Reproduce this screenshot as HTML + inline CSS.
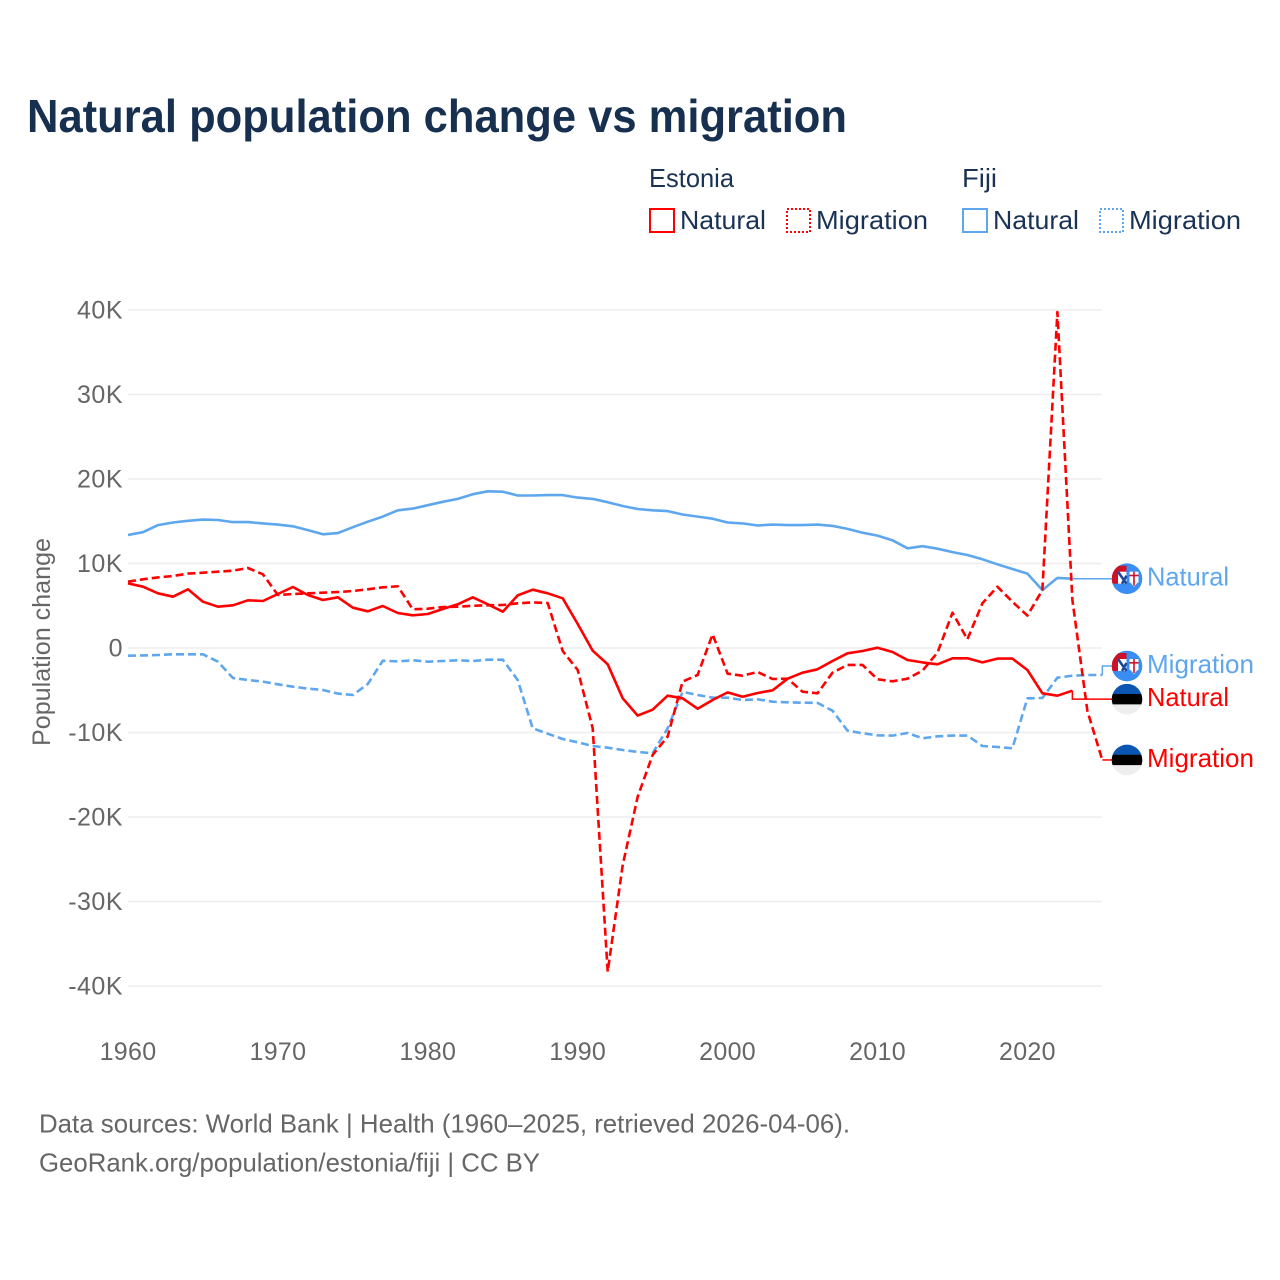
<!DOCTYPE html>
<html lang="en">
<head>
<meta charset="utf-8">
<title>Natural population change vs migration</title>
<style>
html,body{margin:0;padding:0;background:#fff;}
svg{display:block;font-family:"Liberation Sans",sans-serif;}
.title{font-size:46px;font-weight:700;fill:#17304f;}
.legend{font-size:26px;fill:#1a3355;}
.tick{font-size:25px;fill:#666;}
.foot{font-size:26px;fill:#666;}
.endlabel{font-size:26px;}
</style>
</head>
<body>
<svg id="chart" xmlns="http://www.w3.org/2000/svg" width="1280" height="1280" viewBox="0 0 1280 1280">
<defs>
<clipPath id="flag-clip"><circle cx="0" cy="0" r="15.3"></circle></clipPath>
<g id="flag-fiji" clip-path="url(#flag-clip)">
<rect x="-16" y="-16" width="32" height="32" fill="#3a8df2"></rect>
<rect x="-15" y="-13" width="14.5" height="18" fill="#ce1126"></rect>
<rect x="-9" y="-7" width="8.5" height="12" fill="#ffffff"></rect>
<path d="M-9,-7 L-0.5,5 M-0.5,-3 L-5,5" stroke="#1f4a9c" stroke-width="2.6" fill="none"></path>
<rect x="2.5" y="-7" width="9" height="11" fill="#ffffff"></rect>
<path d="M3.5,4 L10.5,4 L7,8 Z" fill="#ffffff"></path>
<rect x="2.5" y="-4" width="9" height="1.6" fill="#ce1126"></rect>
<rect x="6.2" y="-7" width="1.6" height="14" fill="#ce1126"></rect>
</g>
<g id="flag-estonia" clip-path="url(#flag-clip)">
<rect x="-16" y="-16" width="32" height="11" fill="#0b55b3"></rect>
<rect x="-16" y="-5.2" width="32" height="10.6" fill="#000000"></rect>
<rect x="-16" y="5.2" width="32" height="11" fill="#eeeeee"></rect>
</g>
</defs>

<rect x="0" y="0" width="1280" height="1280" fill="#ffffff"></rect>
<text class="title" x="27" y="132" textLength="820" lengthAdjust="spacingAndGlyphs">Natural population change vs migration</text>

<g>
<text class="legend" x="649" y="187" textLength="85" lengthAdjust="spacingAndGlyphs">Estonia</text>
<text class="legend" x="962" y="187" textLength="35" lengthAdjust="spacingAndGlyphs">Fiji</text>
<g>
<rect x="650" y="209" width="24" height="23" fill="none" stroke="#ff0000" stroke-width="2"></rect>
<text class="legend" x="680" y="229" textLength="86" lengthAdjust="spacingAndGlyphs">Natural</text>
</g>
<g>
<rect x="787" y="209" width="23" height="23" fill="none" stroke="#ff0000" stroke-width="2" stroke-dasharray="2 2"></rect>
<text class="legend" x="816" y="229" textLength="112" lengthAdjust="spacingAndGlyphs">Migration</text>
</g>
<g>
<rect x="963" y="209" width="24" height="23" fill="none" stroke="#5ea6ee" stroke-width="2"></rect>
<text class="legend" x="993" y="229" textLength="86" lengthAdjust="spacingAndGlyphs">Natural</text>
</g>
<g>
<rect x="1100" y="209" width="23" height="23" fill="none" stroke="#5ea6ee" stroke-width="2" stroke-dasharray="2 2"></rect>
<text class="legend" x="1129" y="229" textLength="112" lengthAdjust="spacingAndGlyphs">Migration</text>
</g>
</g>

<g id="grid"></g>
<g id="yticks"></g>
<g id="xticks"></g>
<text class="tick" transform="translate(50,642) rotate(-90)" text-anchor="middle" textLength="208" lengthAdjust="spacingAndGlyphs">Population change</text>
<g id="series"></g>
<g id="ends"></g>

<text class="foot" x="39" y="1132.5" textLength="811" lengthAdjust="spacingAndGlyphs">Data sources: World Bank | Health (1960–2025, retrieved 2026-04-06).</text>
<text class="foot" x="39" y="1171.5" textLength="501" lengthAdjust="spacingAndGlyphs">GeoRank.org/population/estonia/fiji | CC BY</text>
</svg>

<script>
// Values in thousands of people, by year starting 1960.
const startYear = 1960;
const yTickValues = [40, 30, 20, 10, 0, -10, -20, -30, -40];
const yTickLabels = ["40K", "30K", "20K", "10K", "0", "-10K", "-20K", "-30K", "-40K"];
const xTickYears = [1960, 1970, 1980, 1990, 2000, 2010, 2020];

const fijiNatural = [13.37,13.7,14.55,14.85,15.05,15.2,15.15,14.9,14.9,14.75,
14.6,14.4,13.95,13.45,13.6,14.3,14.95,15.55,16.3,16.5,
16.9,17.3,17.65,18.2,18.55,18.5,18.05,18.05,18.1,18.1,
17.8,17.65,17.25,16.8,16.45,16.3,16.2,15.8,15.55,15.3,
14.85,14.75,14.5,14.6,14.55,14.55,14.6,14.45,14.1,13.65,
13.3,12.75,11.8,12.05,11.75,11.35,11.0,10.5,9.9,9.35,
8.8,6.85,8.3,8.2];

const fijiMigration = [-0.91,-0.87,-0.83,-0.75,-0.75,-0.75,-1.62,-3.55,-3.79,-3.98,
-4.3,-4.58,-4.81,-4.97,-5.4,-5.56,-4.26,-1.5,-1.58,-1.46,
-1.62,-1.54,-1.46,-1.54,-1.38,-1.38,-3.79,-9.5,-10.14,-10.77,
-11.16,-11.6,-11.8,-12.07,-12.3,-12.46,-9.5,-5.2,-5.56,-5.88,
-5.88,-6.15,-6.07,-6.35,-6.43,-6.47,-6.5,-7.42,-9.78,-10.1,
-10.33,-10.37,-10.06,-10.69,-10.45,-10.37,-10.37,-11.6,-11.72,-11.87,
-5.95,-5.92,-3.51,-3.28,-3.2,-3.2];

const estoniaNatural = [7.65,7.25,6.47,6.07,6.95,5.48,4.89,5.05,5.64,5.56,
6.39,7.22,6.27,5.68,6.0,4.77,4.34,4.97,4.14,3.87,
4.02,4.62,5.17,6.0,5.17,4.3,6.23,6.9,6.47,5.88,
2.84,-0.32,-1.93,-5.95,-8.0,-7.3,-5.64,-5.95,-7.18,-6.15,
-5.25,-5.76,-5.33,-5.0,-3.63,-2.92,-2.52,-1.54,-0.63,-0.36,
0.04,-0.47,-1.42,-1.7,-1.93,-1.22,-1.22,-1.7,-1.26,-1.26,
-2.6,-5.36,-5.64,-5.05];

const estoniaMigration = [7.85,8.13,8.36,8.52,8.8,8.91,9.03,9.15,9.47,8.72,
6.27,6.39,6.47,6.55,6.63,6.75,6.95,7.18,7.3,4.58,
4.65,4.85,4.89,5.0,5.05,5.09,5.29,5.4,5.33,-0.36,
-2.6,-9.5,-38.3,-25.7,-17.6,-12.66,-10.5,-3.98,-3.2,1.62,
-3.04,-3.28,-2.84,-3.67,-3.63,-5.17,-5.36,-2.92,-2.0,-2.0,
-3.71,-3.94,-3.63,-2.68,-0.55,4.18,1.03,5.29,7.25,5.48,
3.83,6.86,39.76,5.68,-7.46,-13.25];

const RED = "#ff0000";
const BLUE = "#5ea6ee";
const NS = "http://www.w3.org/2000/svg";

function xScale(year) { return 128 + (year - startYear) * 14.99; }
function yScale(v) { return 648 - v * 8.45; }

function svgEl(tag, attrs, parent) {
  const el = document.createElementNS(NS, tag);
  for (const k in attrs) el.setAttribute(k, attrs[k]);
  parent.appendChild(el);
  return el;
}

const grid = document.getElementById("grid");
const yticks = document.getElementById("yticks");
const xticks = document.getElementById("xticks");
const seriesLayer = document.getElementById("series");
const ends = document.getElementById("ends");

yTickValues.forEach(function (v, i) {
  const line = svgEl("line", {x1: 128, x2: 1102, y1: yScale(v), y2: yScale(v), stroke: "#eeeeee", "stroke-width": 1.6}, grid);
  
  
  const t = svgEl("text", {class: "tick", x: 123, y: yScale(v) + 8.5, "text-anchor": "end", "letter-spacing": "0.5"}, yticks);
  
  
  t.textContent = yTickLabels[i];
});

xTickYears.forEach(function (yr) {
  const t = svgEl("text", {class: "tick", x: xScale(yr), y: 1060, "text-anchor": "middle", "letter-spacing": "0.3"}, xticks);
  
  
  t.textContent = String(yr);
});

const seriesList = [
  {name: "fiji-natural", values: fijiNatural, color: BLUE, dash: "", label: "Natural", labelWidth: 82, flag: "#flag-fiji", nudge: 0},
  {name: "fiji-migration", values: fijiMigration, color: BLUE, dash: "8 4", label: "Migration", labelWidth: 107, flag: "#flag-fiji", nudge: -9},
  {name: "estonia-natural", values: estoniaNatural, color: RED, dash: "", label: "Natural", labelWidth: 82, flag: "#flag-estonia", nudge: 8.5},
  {name: "estonia-migration", values: estoniaMigration, color: RED, dash: "8 4", label: "Migration", labelWidth: 107, flag: "#flag-estonia", nudge: 0}
];

seriesList.forEach(function (s) {
  const pts = s.values.map(function (v, i) {
    return xScale(startYear + i).toFixed(1) + "," + yScale(v).toFixed(1);
  }).join(" ");
  const attrs = {points: pts, fill: "none", stroke: s.color, "stroke-width": 2.6, "stroke-linejoin": "round"};
  if (s.dash) attrs["stroke-dasharray"] = s.dash;
  const line = svgEl("polyline", attrs, seriesLayer);
  
  

  const lastIndex = s.values.length - 1;
  const lastX = xScale(startYear + lastIndex);
  const lastY = yScale(s.values[lastIndex]);
  const labelY = lastY + s.nudge;

  const leader = svgEl("polyline", {
    points: lastX + "," + lastY + " " + lastX + "," + labelY + " 1114," + labelY,
    fill: "none", stroke: s.color, "stroke-width": 1.5
  }, ends);
  
  

  const flag = svgEl("use", {href: s.flag, x: 1127, y: labelY}, ends);
  
  

  const label = svgEl("text", {class: "endlabel", x: 1147, y: labelY + 7, fill: s.color, textLength: s.labelWidth, lengthAdjust: "spacingAndGlyphs"}, ends);
  
  
  label.textContent = s.label;
});
</script>
</body>
</html>
